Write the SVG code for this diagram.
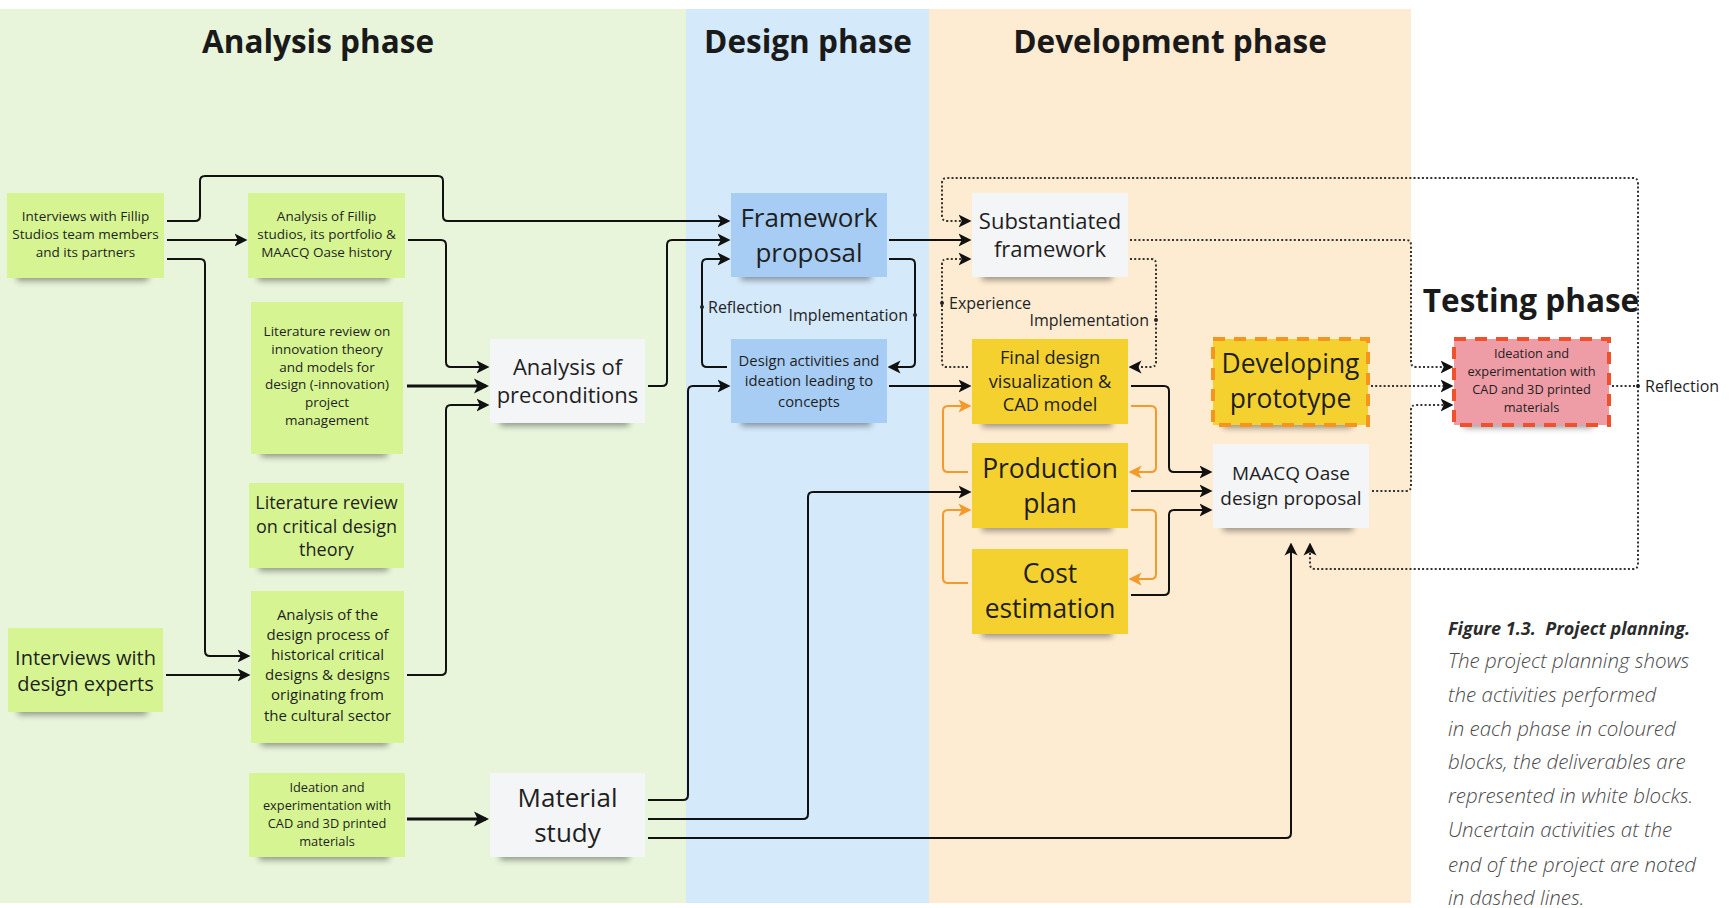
<svg xmlns="http://www.w3.org/2000/svg" width="1730" height="908" viewBox="0 0 1730 908">
  <style>
    .t { font-family: "Open Sans", "Liberation Sans", sans-serif; fill: #1f1f1f; text-anchor: middle; }
    .h { font-weight: 700; font-size: 31.5px; fill: #1a1a1a; }
    .lbl { font-family: "Open Sans", "Liberation Sans", sans-serif; font-size: 16px; fill: #1f1f1f; }
    .sh { fill: #000; opacity: 0.38; filter: url(#blur); }
    .green { fill: #d6f592; }
    .blue { fill: #a7cdf4; }
    .white { fill: #f4f5f7; }
    .yellow { fill: #f4d12f; }
    .pink { fill: #ee9ca6; }
    .c { fill: none; stroke: #111; stroke-width: 2; marker-end: url(#ah); }
    .thick { stroke-width: 3; marker-end: url(#ahL); }
    .o { fill: none; stroke: #f39a2c; stroke-width: 2; marker-end: url(#ahO); }
    .d { fill: none; stroke: #333; stroke-width: 2; stroke-dasharray: 2 2.2; marker-end: url(#ah); }
    .nm { marker-end: none; }
    .dot { fill: #222; }
    .cap { font-family: "Open Sans", "Liberation Sans", sans-serif; font-style: italic; }
  </style>
  <defs>
    <filter id="blur" x="-20%" y="-100%" width="140%" height="300%">
      <feGaussianBlur stdDeviation="3"/>
    </filter>
    <marker id="ah" viewBox="0 0 13 14" refX="10.5" refY="7" markerWidth="13" markerHeight="14" markerUnits="userSpaceOnUse" orient="auto">
      <path d="M0,0.5 L13,7 L0,13.5 L3.2,7 Z" fill="#111" stroke="none"/>
    </marker>
    <marker id="ahL" viewBox="0 0 15 16" refX="12" refY="8" markerWidth="15" markerHeight="16" markerUnits="userSpaceOnUse" orient="auto">
      <path d="M0,0.5 L15,8 L0,15.5 L3.6,8 Z" fill="#111" stroke="none"/>
    </marker>
    <marker id="ahO" viewBox="0 0 13 14" refX="10.5" refY="7" markerWidth="13" markerHeight="14" markerUnits="userSpaceOnUse" orient="auto">
      <path d="M0,0.5 L13,7 L0,13.5 L3.2,7 Z" fill="#f39a2c" stroke="none"/>
    </marker>
  </defs>

  <!-- phase bands -->
  <g id="phases">
    <rect x="0" y="9" width="686" height="894" fill="#e8f5db"/>
    <rect x="686" y="9" width="243" height="894" fill="#d4e9fa"/>
    <rect x="929" y="9" width="482" height="894" fill="#fdebd2"/>
    <text class="t h" x="318" y="53">Analysis phase</text>
    <text class="t h" x="808" y="53">Design phase</text>
    <text class="t h" x="1170" y="53">Development phase</text>
    <text class="t h" x="1531" y="312">Testing phase</text>
  </g>

  <!-- analysis phase notes -->
  <g id="n-interviews-fillip">
    <rect class="sh" x="17" y="269" width="131" height="12"/>
    <rect class="green" x="7" y="193" width="157" height="85"/>
    <text class="t" font-size="13.5"><tspan x="85.5" y="221">Interviews with Fillip</tspan><tspan x="85.5" y="239">Studios team members</tspan><tspan x="85.5" y="257">and its partners</tspan></text>
  </g>
  <g id="n-analysis-fillip">
    <rect class="sh" x="258" y="269" width="131" height="12"/>
    <rect class="green" x="248" y="193" width="157" height="85"/>
    <text class="t" font-size="13.5"><tspan x="326.5" y="221">Analysis of Fillip</tspan><tspan x="326.5" y="239">studios, its portfolio &amp;</tspan><tspan x="326.5" y="257">MAACQ Oase history</tspan></text>
  </g>
  <g id="n-lit-innovation">
    <rect class="sh" x="261" y="445" width="126" height="12"/>
    <rect class="green" x="251" y="302" width="152" height="152"/>
    <text class="t" font-size="13.5"><tspan x="327" y="336">Literature review on</tspan><tspan x="327" y="354">innovation theory</tspan><tspan x="327" y="372">and models for</tspan><tspan x="327" y="389">design (-innovation)</tspan><tspan x="327" y="407">project</tspan><tspan x="327" y="425">management</tspan></text>
  </g>
  <g id="n-lit-critical">
    <rect class="sh" x="259" y="559" width="129" height="12"/>
    <rect class="green" x="249" y="483" width="155" height="85"/>
    <text class="t" font-size="18"><tspan x="326.5" y="509">Literature review</tspan><tspan x="326.5" y="533">on critical design</tspan><tspan x="326.5" y="556">theory</tspan></text>
  </g>
  <g id="n-interviews-experts">
    <rect class="sh" x="18" y="703" width="129" height="12"/>
    <rect class="green" x="8" y="628" width="155" height="84"/>
    <text class="t" font-size="20"><tspan x="85.5" y="665">Interviews with</tspan><tspan x="85.5" y="691">design experts</tspan></text>
  </g>
  <g id="n-analysis-design">
    <rect class="sh" x="261" y="734" width="127" height="12"/>
    <rect class="green" x="251" y="591" width="153" height="152"/>
    <text class="t" font-size="15"><tspan x="327.5" y="620">Analysis of the</tspan><tspan x="327.5" y="640">design process of</tspan><tspan x="327.5" y="660">historical critical</tspan><tspan x="327.5" y="680">designs &amp; designs</tspan><tspan x="327.5" y="700">originating from</tspan><tspan x="327.5" y="721">the cultural sector</tspan></text>
  </g>
  <g id="n-ideation-cad">
    <rect class="sh" x="259" y="848" width="130" height="12"/>
    <rect class="green" x="249" y="773" width="156" height="84"/>
    <text class="t" font-size="12.8"><tspan x="327" y="792">Ideation and</tspan><tspan x="327" y="810">experimentation with</tspan><tspan x="327" y="828">CAD and 3D printed</tspan><tspan x="327" y="846">materials</tspan></text>
  </g>
  <g id="n-preconditions">
    <rect class="sh" x="500" y="414" width="129" height="12"/>
    <rect class="white" x="490" y="339" width="155" height="84"/>
    <text class="t" font-size="22"><tspan x="567.5" y="375">Analysis of</tspan><tspan x="567.5" y="403">preconditions</tspan></text>
  </g>
  <g id="n-material">
    <rect class="sh" x="500" y="848" width="129" height="12"/>
    <rect class="white" x="490" y="773" width="155" height="84"/>
    <text class="t" font-size="26"><tspan x="567.5" y="807">Material</tspan><tspan x="567.5" y="842">study</tspan></text>
  </g>

  <!-- design phase notes -->
  <g id="n-framework">
    <rect class="sh" x="741" y="268" width="130" height="12"/>
    <rect class="blue" x="731" y="193" width="156" height="84"/>
    <text class="t" font-size="26"><tspan x="809" y="227">Framework</tspan><tspan x="809" y="262">proposal</tspan></text>
  </g>
  <g id="n-design-activities">
    <rect class="sh" x="741" y="414" width="130" height="12"/>
    <rect class="blue" x="731" y="339" width="156" height="84"/>
    <text class="t" font-size="14.8"><tspan x="809" y="366">Design activities and</tspan><tspan x="809" y="386">ideation leading to</tspan><tspan x="809" y="407">concepts</tspan></text>
  </g>

  <!-- development phase notes -->
  <g id="n-substantiated">
    <rect class="sh" x="982" y="268" width="130" height="12"/>
    <rect class="white" x="972" y="193" width="156" height="84"/>
    <text class="t" font-size="22"><tspan x="1050" y="228.5">Substantiated</tspan><tspan x="1050" y="256.5">framework</tspan></text>
  </g>
  <g id="n-final-design">
    <rect class="sh" x="982" y="415" width="130" height="12"/>
    <rect class="yellow" x="972" y="339" width="156" height="85"/>
    <text class="t" font-size="18.2"><tspan x="1050" y="364">Final design</tspan><tspan x="1050" y="388">visualization &amp;</tspan><tspan x="1050" y="411">CAD model</tspan></text>
  </g>
  <g id="n-production">
    <rect class="sh" x="982" y="519" width="130" height="12"/>
    <rect class="yellow" x="972" y="443" width="156" height="85"/>
    <text class="t" font-size="26.4"><tspan x="1050" y="478">Production</tspan><tspan x="1050" y="513">plan</tspan></text>
  </g>
  <g id="n-cost">
    <rect class="sh" x="982" y="625" width="130" height="12"/>
    <rect class="yellow" x="972" y="549" width="156" height="85"/>
    <text class="t" font-size="26.4"><tspan x="1050" y="583">Cost</tspan><tspan x="1050" y="618">estimation</tspan></text>
  </g>
  <g id="n-developing">
    <rect class="sh" x="1223" y="416" width="129" height="12"/>
    <rect class="yellow" x="1213" y="339" width="155" height="86" stroke="#f7941d" stroke-width="4" stroke-dasharray="12 9"/>
    <text class="t" font-size="26.4"><tspan x="1290.5" y="373">Developing</tspan><tspan x="1290.5" y="408">prototype</tspan></text>
  </g>
  <g id="n-maacq">
    <rect class="sh" x="1223" y="519" width="130" height="12"/>
    <rect class="white" x="1213" y="444" width="156" height="84"/>
    <text class="t" font-size="19"><tspan x="1291" y="480">MAACQ Oase</tspan><tspan x="1291" y="505">design proposal</tspan></text>
  </g>

  <!-- testing phase note -->
  <g id="n-testing-ideation">
    <rect class="sh" x="1464" y="416" width="129" height="12"/>
    <rect class="pink" x="1454" y="339" width="155" height="86" stroke="#f0502c" stroke-width="4" stroke-dasharray="12 9"/>
    <text class="t" font-size="12.8"><tspan x="1531.5" y="358">Ideation and</tspan><tspan x="1531.5" y="376">experimentation with</tspan><tspan x="1531.5" y="394">CAD and 3D printed</tspan><tspan x="1531.5" y="412">materials</tspan></text>
  </g>

  <!-- connectors -->
  <g id="connectors">
    <path class="c" d="M167,221 H195 Q200,221 200,216 V181 Q200,176 205,176 H438 Q443,176 443,181 V216 Q443,221 448,221 H728"/>
    <path class="c" d="M167,240 H245"/>
    <path class="c" d="M167,259 H200 Q205,259 205,264 V651 Q205,656 210,656 H248"/>
    <path class="c" d="M166,675 H248"/>
    <path class="c" d="M408,240 H441 Q446,240 446,245 V362 Q446,367 451,367 H487"/>
    <path class="c thick" d="M407,386 H486"/>
    <path class="c" d="M407,675 H441 Q446,675 446,670 V410 Q446,405 451,405 H487"/>
    <path class="c thick" d="M407,819 H486"/>
    <path class="c" d="M648,386 H662 Q667,386 667,381 V245 Q667,240 672,240 H728"/>
    <path class="c" d="M727,367 H707 Q702,367 702,362 V264 Q702,259 707,259 H728"/>
    <path class="c" d="M889,259 H910 Q915,259 915,264 V362 Q915,367 910,367 H890"/>
    <path class="c" d="M889,240 H969"/>
    <path class="c" d="M648,800 H683 Q688,800 688,795 V391 Q688,386 693,386 H728"/>
    <path class="c" d="M889,386 H969"/>
    <path class="c" d="M648,819 H803 Q808,819 808,814 V497 Q808,492 813,492 H969"/>
    <path class="c" d="M648,838 H1286 Q1291,838 1291,833 V545"/>
    <path class="c" d="M1131,386 H1164 Q1169,386 1169,391 V467 Q1169,472 1174,472 H1210"/>
    <path class="c" d="M1131,491 H1210"/>
    <path class="c" d="M1131,595 H1164 Q1169,595 1169,590 V515 Q1169,510 1174,510 H1210"/>

    <path class="o" d="M1131,406 H1151 Q1156,406 1156,411 V467 Q1156,472 1151,472 H1131"/>
    <path class="o" d="M968,472 H948 Q943,472 943,467 V411 Q943,406 948,406 H969"/>
    <path class="o" d="M1131,510 H1151 Q1156,510 1156,515 V574 Q1156,579 1151,579 H1131"/>
    <path class="o" d="M968,583 H948 Q943,583 943,578 V515 Q943,510 948,510 H969"/>

    <path class="d nm" d="M1612,386 H1638"/>
    <path class="d" d="M1638,386 V183 Q1638,178 1633,178 H947 Q942,178 942,183 V216 Q942,221 947,221 H969"/>
    <path class="d" d="M1638,386 V564 Q1638,569 1633,569 H1315 Q1310,569 1310,564 V545"/>
    <path class="d" d="M968,367 H947 Q942,367 942,362 V264 Q942,259 947,259 H969"/>
    <path class="d" d="M1130,259 H1151 Q1156,259 1156,264 V362 Q1156,367 1151,367 H1131"/>
    <path class="d" d="M1130,240 H1406 Q1411,240 1411,245 V362 Q1411,367 1416,367 H1451"/>
    <path class="d" d="M1371,386 H1451"/>
    <path class="d" d="M1372,491 H1406 Q1411,491 1411,486 V410 Q1411,405 1416,405 H1451"/>

    <circle class="dot" cx="702" cy="307" r="2"/>
    <circle class="dot" cx="915" cy="315" r="2"/>
    <circle class="dot" cx="942" cy="303" r="2"/>
    <circle class="dot" cx="1156" cy="320" r="2"/>
    <circle class="dot" cx="1638" cy="386" r="2"/>
    <text class="lbl" x="708" y="313">Reflection</text>
    <text class="lbl" x="908" y="321" text-anchor="end">Implementation</text>
    <text class="lbl" x="949" y="309">Experience</text>
    <text class="lbl" x="1149" y="326" text-anchor="end">Implementation</text>
    <text class="lbl" x="1645" y="392">Reflection</text>
  </g>

  <!-- caption -->
  <g id="caption">
    <text class="cap" x="1448" y="635" font-size="18" font-weight="700" fill="#2b2b2b">Figure 1.3.&#160; Project planning.</text>
    <text class="cap" font-size="20.5" font-weight="300" fill="#4a4a4a">
      <tspan x="1448" y="668">The project planning shows</tspan>
      <tspan x="1448" y="702">the activities performed</tspan>
      <tspan x="1448" y="736">in each phase in coloured</tspan>
      <tspan x="1448" y="769">blocks, the deliverables are</tspan>
      <tspan x="1448" y="803">represented in white blocks.</tspan>
      <tspan x="1448" y="837">Uncertain activities at the</tspan>
      <tspan x="1448" y="872">end of the project are noted</tspan>
      <tspan x="1448" y="905">in dashed lines.</tspan>
    </text>
  </g>
</svg>
